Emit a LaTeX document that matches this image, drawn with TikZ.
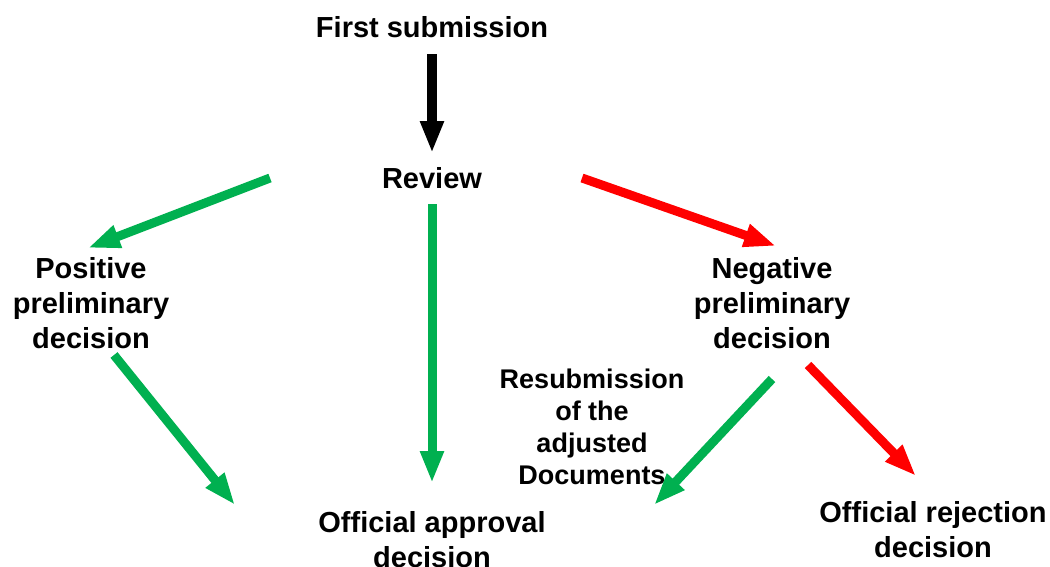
\documentclass[tikz,border=0pt]{standalone}
\usepackage{fontspec}
\setmainfont{Liberation Sans}
\usetikzlibrary{arrows.meta}
\definecolor{fgreen}{HTML}{00B050}
\definecolor{fred}{HTML}{FF0000}
\begin{document}
\begin{tikzpicture}[x=1pt,y=-1pt,
  lbl/.style={font=\bfseries\fontsize{29}{35}\selectfont,align=center,inner sep=0pt},
  lbls/.style={font=\bfseries\fontsize{27}{32}\selectfont,align=center,inner sep=0pt},
  bigarrow/.style={line width=9pt,-{Triangle[width=22pt,length=32pt]}}]
\useasboundingbox (0,0) rectangle (1050,566);
\node[lbl] (first) at (432,27) {First submission};
\node[lbl] (review) at (432,178) {Review};
\node[lbl] (pos) at (91,303) {Positive\\preliminary\\decision};
\node[lbl] (neg) at (772,303) {Negative\\preliminary\\decision};
\node[lbls] (resub) at (592,427) {Resubmission\\of the\\adjusted\\Documents};
\node[lbl] (appr) at (432,540) {Official approval\\decision};
\node[lbl] (rej) at (933,530) {Official rejection\\decision};
% arrow endpoints
\coordinate (a1s) at (432,54);  \coordinate (a1e) at (432,153);
\coordinate (a2s) at (270,178); \coordinate (a2e) at (88,248);
\coordinate (a3s) at (432,204); \coordinate (a3e) at (432,483);
\coordinate (a4s) at (582,178); \coordinate (a4e) at (776,246);
\coordinate (a5s) at (114,355); \coordinate (a5e) at (235,505);
\coordinate (a6s) at (772,379); \coordinate (a6e) at (654,505);
\coordinate (a7s) at (808,365); \coordinate (a7e) at (916,476);
\draw[bigarrow,black,line width=10pt] (a1s) -- (a1e);
\draw[bigarrow,fgreen] (a2s) -- (a2e);
\draw[bigarrow,fgreen] (a3s) -- (a3e);
\draw[bigarrow,fred] (a4s) -- (a4e);
\draw[bigarrow,fgreen] (a5s) -- (a5e);
\draw[bigarrow,fgreen] (a6s) -- (a6e);
\draw[bigarrow,fred] (a7s) -- (a7e);
\end{tikzpicture}
\end{document}
